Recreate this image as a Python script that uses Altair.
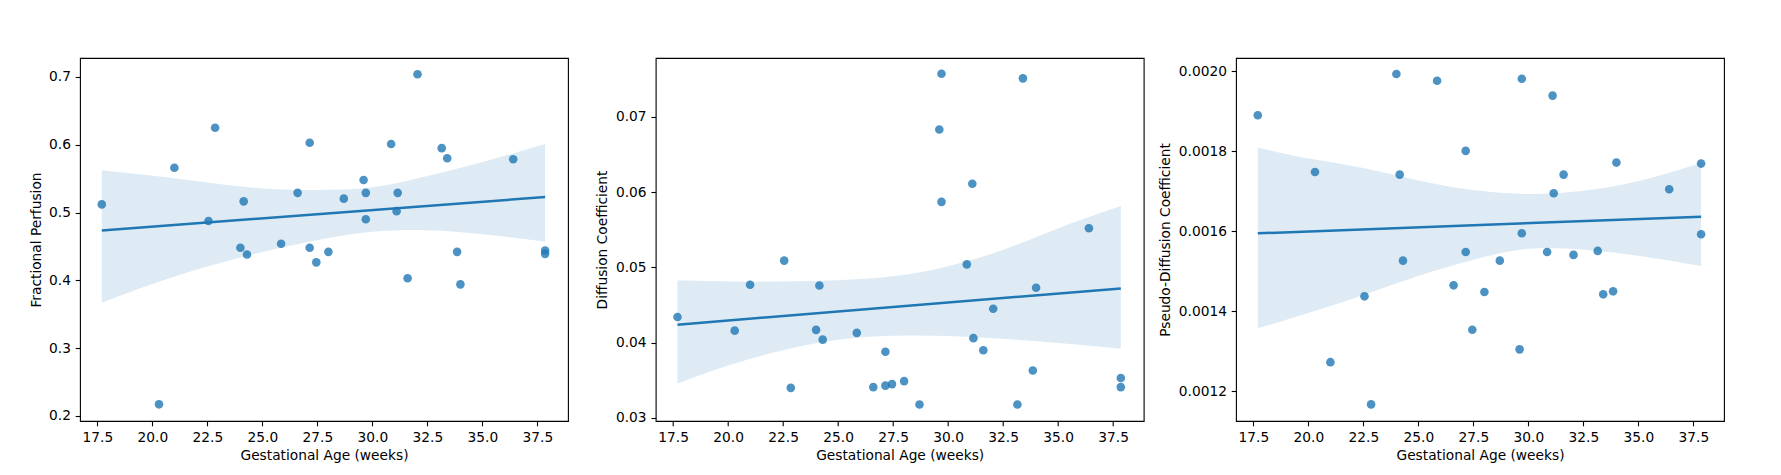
import altair as alt
import pandas as pd

# Gestational age (weeks) of each subject, shared by the three panels
ages = [17.7, 20.3, 21.0, 22.55, 22.85, 24.0, 24.15, 24.3, 25.85, 26.6,
        27.15, 27.15, 27.45, 28.0, 28.7, 29.6, 29.7, 29.7, 30.85, 31.1,
        31.15, 31.6, 32.05, 33.15, 33.4, 33.85, 34.0, 36.4, 37.85, 37.85]

perfusion = [0.512, 0.217, 0.566, 0.4875, 0.625, 0.448, 0.5165, 0.438, 0.454, 0.529,
             0.603, 0.448, 0.4265, 0.442, 0.5205, 0.548, 0.529, 0.490, 0.601, 0.502,
             0.529, 0.403, 0.704, 0.595, 0.580, 0.442, 0.394, 0.5785, 0.444, 0.439]

diffusion = [0.0434, 0.0416, 0.0477, 0.0509, 0.0340, 0.0417, 0.0476, 0.0404, 0.0413, 0.0341,
             0.0388, 0.0343, 0.0345, 0.0349, 0.0318, 0.0683, 0.0757, 0.0587, 0.0504, 0.0611,
             0.0406, 0.0390, 0.0445, 0.0318, 0.0751, 0.0363, 0.0473, 0.0552, 0.0353, 0.0341]

pseudo = [0.00189, 0.001748, 0.001273, 0.0014375, 0.0011675, 0.001993, 0.0017417, 0.0015267, 0.001976, 0.001465,
          0.001801, 0.0015483, 0.001354, 0.0014483, 0.0015267, 0.001305, 0.001981, 0.001595, 0.0015483, 0.001939,
          0.001695, 0.0017417, 0.001541, 0.001551, 0.0014425, 0.00145, 0.0017717, 0.001705, 0.0017692, 0.0015925]

# 95% confidence band
band_age = [17.7, 20.0, 22.5, 25.0, 27.5, 30.0, 32.5, 35.0, 37.85]
perf_lo = [0.3670, 0.3955, 0.4211, 0.4422, 0.4604, 0.4737, 0.4752, 0.4688, 0.4570]
perf_hi = [0.5623, 0.5549, 0.5441, 0.5342, 0.5328, 0.5342, 0.5539, 0.5736, 0.6011]
diff_lo = [0.03457, 0.03710, 0.03909, 0.04055, 0.04100, 0.04095, 0.04055, 0.03998, 0.03918]
diff_hi = [0.04827, 0.04809, 0.04809, 0.04827, 0.04863, 0.05004, 0.05217, 0.05528, 0.05816]
pseu_lo = [0.0013575, 0.0013958, 0.0014400, 0.0014900, 0.0015300, 0.0015633, 0.0015550, 0.0015408, 0.0015133]
pseu_hi = [0.0018092, 0.0017800, 0.0017608, 0.0017250, 0.0017008, 0.0016900, 0.0016992, 0.0017217, 0.0017708]

x_ticks = [17.5, 20.0, 22.5, 25.0, 27.5, 30.0, 32.5, 35.0, 37.5]
x_domain = [16.71, 38.89]

BLUE = "#1f77b4"
FONT = "DejaVu Sans"


def panel(values, lo, hi, title, y_domain, y_ticks, y_fmt):
    pts = pd.DataFrame({"age": ages, "val": values})
    band = pd.DataFrame({"age": band_age, "lo": lo, "hi": hi})
    xs = alt.Scale(domain=x_domain, nice=False, zero=False)
    ys = alt.Scale(domain=y_domain, nice=False, zero=False)
    xa = alt.Axis(values=x_ticks, format=".1f", title="Gestational Age (weeks)", titlePadding=4)
    ya = alt.Axis(values=y_ticks, format=y_fmt, title=title, titlePadding=5.5)
    p = alt.Chart(pts).mark_circle(size=74, color=BLUE, opacity=0.8).encode(
        x=alt.X("age:Q", scale=xs, axis=xa),
        y=alt.Y("val:Q", scale=ys, axis=ya),
    )
    b = alt.Chart(band).mark_area(color=BLUE, opacity=0.15, interpolate="basis").encode(
        x=alt.X("age:Q", scale=xs),
        y=alt.Y("lo:Q", scale=ys),
        y2="hi:Q",
    )
    l = alt.Chart(pts).transform_regression("age", "val").mark_line(
        color=BLUE, strokeWidth=2.5
    ).encode(
        x=alt.X("age:Q", scale=xs),
        y=alt.Y("val:Q", scale=ys),
    )
    return alt.layer(p, b, l).properties(width=488, height=363)


p1 = panel(perfusion, perf_lo, perf_hi, "Fractional Perfusion", [0.1924, 0.728],
           [0.2, 0.3, 0.4, 0.5, 0.6, 0.7], ".1f")
p2 = panel(diffusion, diff_lo, diff_hi, "Diffusion Coefficient", [0.0296, 0.0778],
           [0.03, 0.04, 0.05, 0.06, 0.07], ".2f")
p3 = panel(pseudo, pseu_lo, pseu_hi, "Pseudo-Diffusion Coefficient", [0.001126, 0.002033],
           [0.0012, 0.0014, 0.0016, 0.0018, 0.0020], ".4f")

chart = alt.hconcat(alt.hconcat(p1, p2, spacing=25.7), p3, spacing=13).properties(
    padding={"left": 20, "top": 49, "right": 5, "bottom": 5}
).configure_view(
    stroke="black", strokeWidth=1.1
).configure_axis(
    grid=False, domain=False,
    labelFont=FONT, labelFontSize=13.75, labelColor="black",
    titleFont=FONT, titleFontSize=13.75, titleFontWeight="normal", titleColor="black",
    tickColor="black", tickSize=4.8, tickWidth=1.1, labelPadding=4.8,
    labelFlush=False, labelOverlap=False,
)

chart.save("out.html", embed_options={"renderer": "svg", "actions": False})
